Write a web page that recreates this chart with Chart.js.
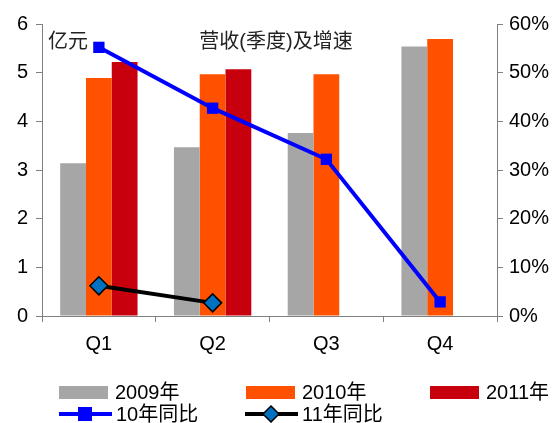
<!DOCTYPE html>
<html>
<head>
<meta charset="utf-8">
<script src="https://cdn.jsdelivr.net/npm/chart.js@4/dist/chart.umd.min.js"></script>
<style>
  html, body { margin: 0; padding: 0; background: #fff; }
  #wrap { width: 555px; height: 423px; }
</style>
</head>
<body>
<div id="wrap"><canvas id="myChart"></canvas></div>
<script>
// Data

const quarters = ["Q1", "Q2", "Q3", "Q4"];
const rev2009 = [3.14, 3.47, 3.76, 5.54];
const rev2010 = [4.89, 4.97, 4.97, 5.69];
const rev2011 = [5.22, 5.07, null, null];
const yoy2010 = [55.2, 42.7, 32.2, 2.9];
const yoy2011 = [6.2, 2.7, null, null];

const leftTicks = [0, 1, 2, 3, 4, 5, 6];
const rightTicks = [0, 10, 20, 30, 40, 50, 60];

const titleText = "营收(季度)及增速";
const unitText = "亿元";

// Styles

const gray = "#a6a6a6";
const orange = "#ff5100";
const red = "#c8000e";
const axisColor = "#808080";
const latin = "'Liberation Sans', Arial, sans-serif";
const cjk = "'Liberation Sans', 'Noto Sans CJK SC', sans-serif";

// Legend + in-plot texts drawn by hand, to keep the Excel-like columns

const legendPlugin = {
  id: "excelLegend",
  afterDraw(chart) {
    const ctx = chart.ctx;
    const area = chart.chartArea;
    ctx.save();

    ctx.fillStyle = "#222";
    ctx.font = "20px " + cjk;
    ctx.textBaseline = "middle";
    ctx.textAlign = "left";
    ctx.fillText(unitText, area.left + 6, 42);
    ctx.textAlign = "center";
    ctx.fillText(titleText, 276, 42);

    const ds = chart.data.datasets;
    const row1 = 392, row2 = 414;
    const boxes = [[59, ds[2]], [246, ds[3]], [430, ds[4]]];
    ctx.textAlign = "left";
    boxes.forEach(([x, d]) => {
      ctx.fillStyle = d.backgroundColor;
      ctx.fillRect(x, row1 - 6, 49, 13);
      ctx.fillStyle = "#000";
      ctx.fillText(d.label, x + 56, row1 + 1);
    });

    const lines = [[59, ds[0]], [245, ds[1]]];
    lines.forEach(([x, d]) => {
      ctx.strokeStyle = d.borderColor;
      ctx.lineWidth = 4;
      ctx.beginPath();
      ctx.moveTo(x, row2);
      ctx.lineTo(x + 53, row2);
      ctx.stroke();
      const cx = x + 26;
      ctx.fillStyle = d.pointBackgroundColor;
      ctx.strokeStyle = d.pointBorderColor;
      ctx.lineWidth = d.pointBorderWidth;
      ctx.beginPath();
      if (d.pointStyle === "rect") {
        ctx.rect(cx - 7, row2 - 7, 14, 14);
      } else {
        ctx.moveTo(cx, row2 - 8);
        ctx.lineTo(cx + 8, row2);
        ctx.lineTo(cx, row2 + 8);
        ctx.lineTo(cx - 8, row2);
        ctx.closePath();
      }
      ctx.fill();
      if (d.pointBorderWidth) ctx.stroke();
      ctx.fillStyle = "#000";
      ctx.fillText(d.label, x + 57, row2 + 1);
    });

    ctx.restore();
  },
};

// Chart

const ctx = document.getElementById("myChart").getContext("2d");
const chart = new Chart(ctx, {
  type: "bar",
  data: {
    labels: quarters,
    datasets: [
      {
        type: "line",
        label: "10年同比",
        data: yoy2010,
        yAxisID: "y1",
        borderColor: "#0000ff",
        borderWidth: 4,
        pointStyle: "rect",
        pointRadius: 8,
        pointBackgroundColor: "#0000ff",
        pointBorderColor: "#0000ff",
        pointBorderWidth: 0,
        order: 0,
      },
      {
        type: "line",
        label: "11年同比",
        data: yoy2011,
        yAxisID: "y1",
        borderColor: "#000000",
        borderWidth: 4,
        pointStyle: "rectRot",
        pointRadius: 9,
        pointBackgroundColor: "#0070c0",
        pointBorderColor: "#000000",
        pointBorderWidth: 1.5,
        order: 0,
      },
      { label: "2009年", data: rev2009, backgroundColor: gray, order: 1 },
      { label: "2010年", data: rev2010, backgroundColor: orange, order: 1 },
      { label: "2011年", data: rev2011, backgroundColor: red, order: 1 },
    ],
  },
  options: {
    responsive: true,
    maintainAspectRatio: false,
    animation: false,
    layout: { padding: { top: 24, bottom: 57, left: 0, right: 0 } },
    datasets: {
      bar: { categoryPercentage: 0.68, barPercentage: 1.0 },
    },
    plugins: {
      legend: { display: false },
      tooltip: { enabled: false },
    },
    scales: {
      x: {
        grid: {
          display: true,
          offset: true,
          drawOnChartArea: false,
          color: axisColor,
          tickLength: 6,
        },
        border: { color: axisColor, width: 1 },
        ticks: { color: "#000", font: { family: latin, size: 20 }, padding: 10 },
        afterFit(scale) { scale.height = 50; },
      },
      y: {
        position: "left",
        min: 0,
        max: 6,
        afterBuildTicks(scale) { scale.ticks = leftTicks.map(v => ({ value: v })); },
        grid: { drawOnChartArea: false, color: axisColor, tickLength: 6 },
        border: { color: axisColor, width: 1 },
        ticks: { color: "#000", font: { family: latin, size: 20 }, padding: 8 },
        afterFit(scale) { scale.width = 42; },
      },
      y1: {
        position: "right",
        min: 0,
        max: 60,
        afterBuildTicks(scale) { scale.ticks = rightTicks.map(v => ({ value: v })); },
        grid: { drawOnChartArea: false, color: axisColor, tickLength: 6 },
        border: { color: axisColor, width: 1 },
        ticks: {
          color: "#000",
          font: { family: latin, size: 20 },
          padding: 6,
          callback: v => v + "%",
        },
        afterFit(scale) { scale.width = 58; },
      },
    },
  },
  plugins: [legendPlugin],
});
</script>
</body>
</html>
